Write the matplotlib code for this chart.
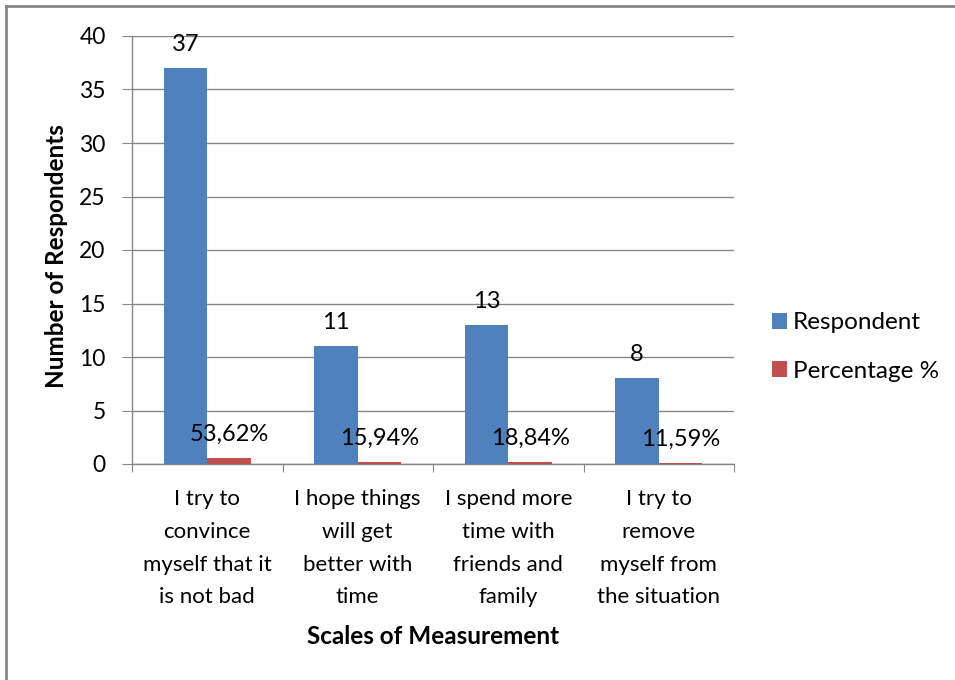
import matplotlib.pyplot as plt
from matplotlib.lines import Line2D
import numpy as np

plt.rcParams['font.family'] = ['Lato', 'DejaVu Sans']

categories = [
    "I try to\nconvince\nmyself that it\nis not bad",
    "I hope things\nwill get\nbetter with\ntime",
    "I spend more\ntime with\nfriends and\nfamily",
    "I try to\nremove\nmyself from\nthe situation",
]
respondents = [37, 11, 13, 8]
percentages = [53.62, 15.94, 18.84, 11.59]

blue = "#4F81BD"
red = "#C0504D"
grid_gray = "#868686"
FS_TICK = 16.5
FS_CAT = 16
FS_LBL = 17
FS_TITLE = 17.5
FS_LEG = 17.5

fig = plt.figure(figsize=(9.55, 6.8), dpi=100)
ax = fig.add_axes([132 / 955, 1 - 464 / 680, (734 - 132) / 955, (464 - 36) / 680])

x = np.arange(len(categories))
w = 0.29
pct_frac = [p / 100 for p in percentages]
ax.bar(x - w / 2, respondents, w, color=blue, label="Respondent", zorder=3)
ax.bar(x + w / 2, pct_frac, w, color=red, label="Percentage %", zorder=3)

for xi, v in zip(x, respondents):
    ax.annotate(f"{v}", (xi - w / 2, v), xytext=(0, 9.5), textcoords="offset points",
                ha="center", va="bottom", fontsize=FS_LBL)
for xi, v, p in zip(x, pct_frac, percentages):
    ax.annotate(f"{p:.2f}%".replace(".", ","), (xi + w / 2, v), xytext=(0, 9.5),
                textcoords="offset points", ha="center", va="bottom", fontsize=FS_LBL)

ax.set_xlim(-0.5, len(categories) - 0.5)
ax.set_ylim(0, 40)
ax.set_yticks(range(0, 41, 5))
ax.yaxis.grid(True, color=grid_gray, linewidth=1.0, zorder=0)
ax.set_axisbelow(True)

for s in ["top", "right"]:
    ax.spines[s].set_visible(False)
for s in ["left", "bottom"]:
    ax.spines[s].set_color(grid_gray)
    ax.spines[s].set_linewidth(1.0)

ax.set_xticks(np.arange(-0.5, len(categories), 1.0), minor=False)
ax.set_xticklabels([])
ax.set_xticks(x, minor=True)
ax.set_xticklabels(categories, minor=True, fontsize=FS_CAT, linespacing=1.8)
ax.tick_params(axis="x", which="major", length=6, color=grid_gray, direction="out")
ax.tick_params(axis="x", which="minor", length=0, pad=18)
ax.tick_params(axis="y", length=7, color=grid_gray, labelsize=FS_TICK, pad=12)

ax.set_xlabel("Scales of Measurement", fontsize=FS_TITLE, fontweight="bold", labelpad=13)
ax.set_ylabel("Number of Respondents", fontsize=FS_TITLE, fontweight="bold")
ax.yaxis.set_label_coords(-0.107, 0.485)

ax.legend(loc="center left", bbox_to_anchor=(772 / 955, 1 - 347 / 680),
          bbox_transform=fig.transFigure, frameon=False, fontsize=FS_LEG,
          handlelength=0.62, handleheight=0.62, handletextpad=0.25, labelspacing=1.12,
          borderaxespad=0, borderpad=0)

fig.add_artist(Line2D([6 / 955, 1], [1 - 6 / 680, 1 - 6 / 680], color=grid_gray, linewidth=2,
                      transform=fig.transFigure))
fig.add_artist(Line2D([6 / 955, 6 / 955], [0, 1 - 6 / 680], color=grid_gray, linewidth=2,
                      transform=fig.transFigure))

fig.savefig("out.png", dpi=100, facecolor="white")
